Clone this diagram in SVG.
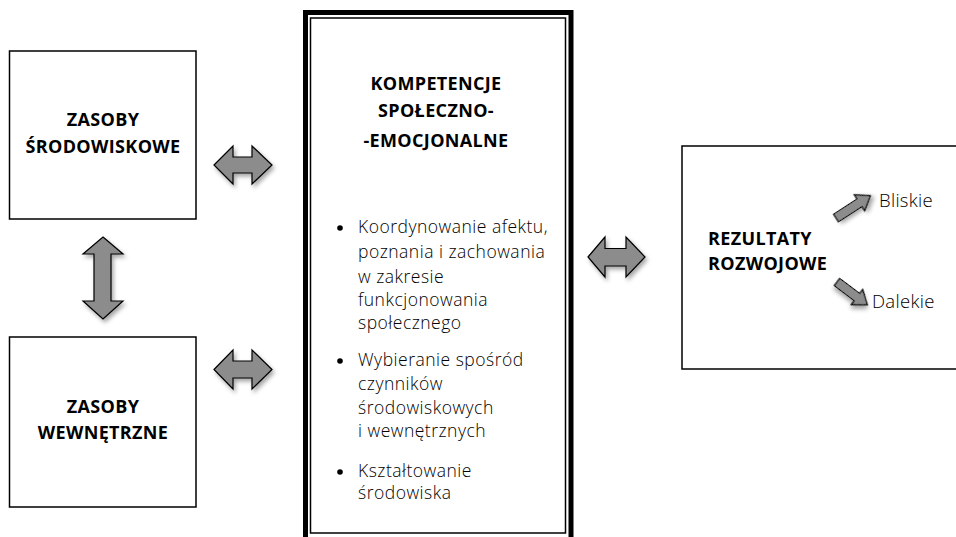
<svg xmlns="http://www.w3.org/2000/svg" width="956" height="537" viewBox="0 0 956 537">
<style>
.box{fill:#fff;stroke:#000;stroke-width:1.5}
.title{font-family:"Open Sans","Liberation Sans",sans-serif;font-weight:700;font-size:18px;letter-spacing:0.35px;fill:#000}
.body{font-family:"Open Sans","Liberation Sans",sans-serif;font-weight:300;font-size:17.5px;letter-spacing:0.5px;fill:#000}
.small{font-family:"Open Sans","Liberation Sans",sans-serif;font-weight:300;font-size:18.5px;letter-spacing:0.3px;fill:#000}
.arr{fill:#8c8c8c;stroke:#000;stroke-width:1.2;stroke-linejoin:miter;filter:url(#sh)}
</style>
<defs>
<filter id="sh" x="-30%" y="-30%" width="160%" height="160%">
<feDropShadow dx="2" dy="3" stdDeviation="2" flood-color="#000" flood-opacity="0.35"/>
</filter>
</defs>
<rect width="956" height="537" fill="#fff"/>
<g id="zasoby-srodowiskowe">
<rect class="box" x="9.5" y="51" width="186.5" height="168"/>
<text class="title" x="103" y="126" text-anchor="middle">ZASOBY</text>
<text class="title" x="103" y="152.5" text-anchor="middle">ŚRODOWISKOWE</text>
</g>
<g id="zasoby-wewnetrzne">
<rect class="box" x="9.5" y="337" width="186.5" height="170"/>
<text class="title" x="103" y="412.5" text-anchor="middle">ZASOBY</text>
<text class="title" x="103" y="439" text-anchor="middle">WEWNĘTRZNE</text>
</g>
<g id="kompetencje">
<rect x="305.5" y="12.5" width="265.5" height="527" fill="#fff" stroke="#000" stroke-width="5"/>
<rect x="310.5" y="18" width="255" height="515" fill="none" stroke="#000" stroke-width="1.5"/>
<text class="title" x="436" y="90" text-anchor="middle">KOMPETENCJE</text>
<text class="title" x="436" y="116.5" text-anchor="middle">SPOŁECZNO-</text>
<text class="title" x="436" y="146.5" text-anchor="middle">-EMOCJONALNE</text>
<g class="body">
<circle cx="340" cy="228" r="2.8"/>
<text x="358" y="233">Koordynowanie afektu,</text>
<text x="358" y="257.5">poznania i zachowania</text>
<text x="358" y="282.5">w zakresie</text>
<text x="358" y="306">funkcjonowania</text>
<text x="358" y="329">społecznego</text>
<circle cx="340" cy="361" r="2.8"/>
<text x="358" y="366">Wybieranie spośród</text>
<text x="358" y="390">czynników</text>
<text x="358" y="414">środowiskowych</text>
<text x="358" y="437">i wewnętrznych</text>
<circle cx="340" cy="472" r="2.8"/>
<text x="358" y="477">Kształtowanie</text>
<text x="358" y="499">środowiska</text>
</g>
</g>
<g id="rezultaty">
<rect class="box" x="682" y="146" width="290" height="223"/>
<text class="title" x="708" y="245">REZULTATY</text>
<text class="title" x="708" y="270">ROZWOJOWE</text>
<text class="small" x="879" y="207">Bliskie</text>
<text class="small" x="872" y="308">Dalekie</text>
</g>
<g id="connectors">
<path class="arr" d="M214,165 L233,146 L233,157 L252,157 L252,146 L272,165 L252,184 L252,173 L233,173 L233,184 Z"/>
<path class="arr" d="M214,369.5 L233,350 L233,361 L252,361 L252,350 L272,369.5 L252,389 L252,378 L233,378 L233,389 Z"/>
<path class="arr" d="M103,237 L123,254 L111,254 L111,301 L123,301 L103,319 L83,301 L94,301 L94,254 L83,254 Z"/>
<path class="arr" d="M588,257 L605,237 L605,248.5 L626,248.5 L626,237 L645,257 L626,277 L626,266 L605,266 L605,277 Z"/>
<path class="arr" transform="translate(836,218) rotate(-33)" d="M0,-4.5 L28,-4.5 L28,-9.5 L41,0 L28,9.5 L28,4.5 L0,4.5 Z"/>
<path class="arr" transform="translate(837,282) rotate(37)" d="M0,-4.5 L25,-4.5 L25,-9.5 L38,0 L25,9.5 L25,4.5 L0,4.5 Z"/>
</g>
</svg>
